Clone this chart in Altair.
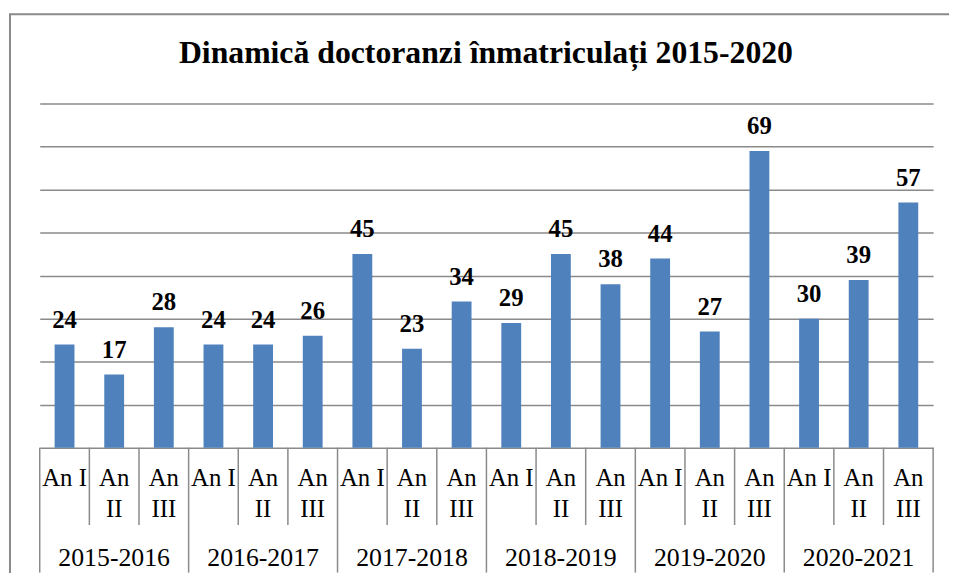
import altair as alt
import pandas as pd

title_text = "Dinamică doctoranzi înmatriculați 2015-2020"
years = ["2015-2016", "2016-2017", "2017-2018", "2018-2019", "2019-2020", "2020-2021"]
levels = ["An I", "An II", "An III"]
level_labels = ["An I", "An\nII", "An\nIII"]
values = [24, 17, 28, 24, 24, 26, 45, 23, 34, 29, 45, 38, 44, 27, 69, 30, 39, 57]

rows = []
for gi, yr in enumerate(years):
    for li, lv in enumerate(levels):
        rows.append({"key": f"{yr} {lv}", "year": yr, "level": lv,
                     "label": level_labels[li], "value": values[gi * 3 + li], "pos": li})
df = pd.DataFrame(rows)
order = list(df["key"])

W, H = 901, 347
FONT = "'Liberation Serif', 'Times New Roman', Times, serif"
GRAY = "#8a8a8a"

xscale = alt.Scale(paddingInner=0, paddingOuter=0)
x_center = alt.X("key:N", sort=order, scale=xscale, axis=None)
x_left = alt.X("key:N", sort=order, scale=xscale, axis=None, bandPosition=0)
x_right = alt.X("key:N", sort=order, scale=xscale, axis=None, bandPosition=1)

base = alt.Chart(df)

bars = base.mark_bar(size=20, color="#4F81BD").encode(
    x=x_center,
    y=alt.Y("value:Q", scale=alt.Scale(domain=[0, 80], nice=False),
            axis=alt.Axis(values=list(range(0, 90, 10)), grid=True, labels=False,
                          ticks=False, domain=False, title=None,
                          gridColor=GRAY, gridWidth=1.5, gridOpacity=1)),
)

value_labels = base.mark_text(font=FONT, fontSize=25, fontWeight="bold",
                              baseline="alphabetic", dy=-17, color="black").encode(
    x=x_center, y="value:Q", text="value:Q")

sub_labels = base.mark_text(font=FONT, fontSize=25, baseline="alphabetic",
                            lineBreak="\n", lineHeight=31, color="black").encode(
    x=x_center, y=alt.value(H + 39), text="label:N")

year_labels = base.transform_filter("datum.pos == 1").mark_text(
    font=FONT, fontSize=26, baseline="alphabetic", color="black").encode(
    x=x_center, y=alt.value(H + 119), text="year:N")

short_div = base.transform_filter("datum.pos != 0").mark_rule(color=GRAY, strokeWidth=1.5).encode(
    x=x_left, y=alt.value(H), y2=alt.value(H + 78))

long_div = base.transform_filter("datum.pos == 0").mark_rule(color=GRAY, strokeWidth=1.5).encode(
    x=x_left, y=alt.value(H), y2=alt.value(H + 126))

end_div = base.transform_filter(f"datum.key == '{order[-1]}'").mark_rule(color=GRAY, strokeWidth=1.5).encode(
    x=x_right, y=alt.value(H), y2=alt.value(H + 126))

one = pd.DataFrame({"t": [title_text]})

border = alt.Chart(one).mark_rect(
    fillOpacity=0, stroke="#8a8a8a", strokeWidth=2).encode(
    x=alt.value(-30), x2=alt.value(935), y=alt.value(-90), y2=alt.value(600))

title = alt.Chart(one).mark_text(font=FONT, fontSize=32, fontWeight="bold",
                                 baseline="alphabetic", align="center", color="black").encode(
    x=alt.value(450), y=alt.value(-41), text="t:N")

chart = alt.layer(border, bars, value_labels, sub_labels, year_labels,
                  short_div, long_div, end_div, title).properties(
    width=W, height=H,
    autosize=alt.AutoSizeParams(type="none"),
    padding={"left": 32, "top": 94, "right": 16, "bottom": 124},
).configure_view(stroke=None)

chart.save("out.html", embed_options={"renderer": "svg", "actions": False})
